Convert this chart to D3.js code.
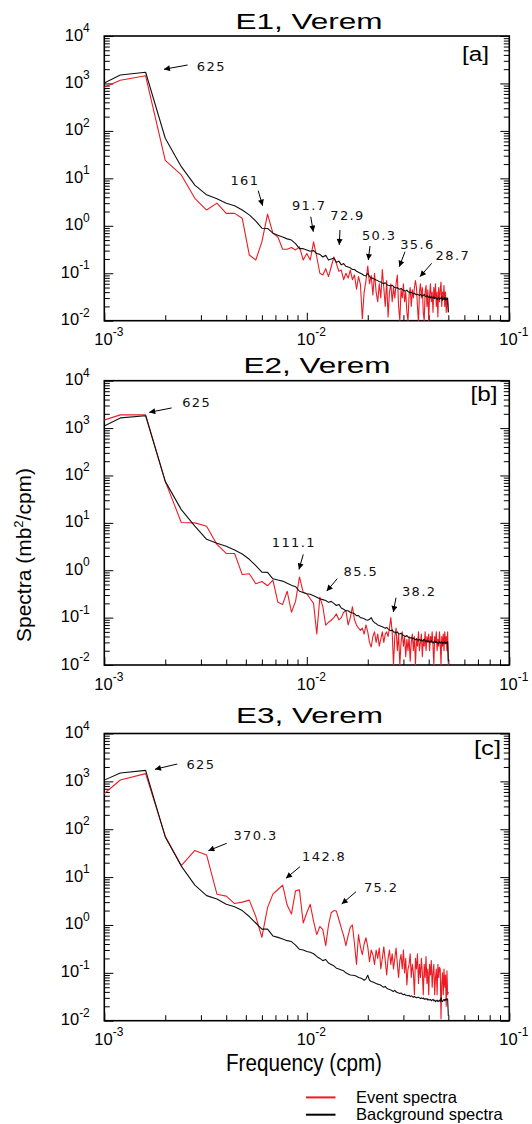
<!DOCTYPE html>
<html>
<head>
<meta charset="utf-8">
<script src="https://cdn.jsdelivr.net/npm/d3@7"></script>
<style>
  body { margin: 0; background: #fff; }
  svg { display: block; font-family: "Liberation Sans", Arial, sans-serif; }
</style>
</head>
<body>
<div id="chart"></div>
<script>
// spectral resolution (cpm); first bin is k = 2
const freqStep = 0.0004;

// E1 background / event spectra (mb^2/cpm), bins k = 2..125
const bgA = [630, 1510, 1720, 70, 17.6, 7.2, 4.5, 3.7, 3.0, 2.65,
  2.15, 1.7, 1.26, 0.89, 0.88, 0.70, 0.63, 0.58, 0.53, 0.50,
  0.42, 0.33, 0.33, 0.31, 0.29, 0.30, 0.26, 0.25, 0.22, 0.24,
  0.19, 0.20, 0.21, 0.17, 0.18, 0.15, 0.16, 0.14, 0.135, 0.13,
  0.12, 0.12, 0.11, 0.105, 0.10, 0.095, 0.09, 0.088, 0.10, 0.085,
  0.08, 0.078, 0.075, 0.072, 0.07, 0.066, 0.065, 0.062, 0.06, 0.063,
  0.058, 0.056, 0.055, 0.054, 0.056, 0.052, 0.05, 0.049, 0.05, 0.047,
  0.046, 0.048, 0.045, 0.044, 0.043, 0.042, 0.044, 0.041, 0.04, 0.039,
  0.04, 0.038, 0.037, 0.038, 0.036, 0.035, 0.036, 0.035, 0.034, 0.036,
  0.034, 0.033, 0.034, 0.036, 0.033, 0.032, 0.034, 0.032, 0.031, 0.033,
  0.03, 0.032, 0.031, 0.03, 0.032, 0.029, 0.031, 0.03, 0.028, 0.03,
  0.031, 0.028, 0.03, 0.029, 0.032, 0.027, 0.03, 0.028, 0.031, 0.027,
  0.03, 0.028, 0.03, 0.015];
const evA = [550, 1170, 1450, 24, 11.8, 3.8, 2.15, 3.0, 1.83, 1.83,
  1.44, 0.243, 0.19, 0.46, 1.77, 0.70, 0.58, 0.32, 0.32, 0.35,
  0.31, 0.36, 0.19, 0.26, 0.19, 0.46, 0.22, 0.10, 0.092, 0.125,
  0.085, 0.137, 0.22, 0.16, 0.11, 0.117, 0.073, 0.10, 0.079, 0.117,
  0.073, 0.092, 0.046, 0.085, 0.058, 0.011, 0.04, 0.07, 0.142, 0.06,
  0.09, 0.035, 0.10, 0.04, 0.025, 0.06, 0.03, 0.12, 0.05, 0.02,
  0.07, 0.012, 0.04, 0.06, 0.025, 0.05, 0.03, 0.06, 0.092, 0.02,
  0.01, 0.045, 0.03, 0.06, 0.025, 0.04, 0.015, 0.01, 0.035, 0.05,
  0.02, 0.045, 0.03, 0.05, 0.07, 0.05, 0.02, 0.009, 0.04, 0.06,
  0.03, 0.05, 0.015, 0.01, 0.04, 0.055, 0.02, 0.045, 0.01, 0.035,
  0.06, 0.025, 0.04, 0.015, 0.05, 0.03, 0.06, 0.02, 0.04, 0.012,
  0.05, 0.025, 0.045, 0.065, 0.02, 0.04, 0.03, 0.055, 0.02, 0.04,
  0.015, 0.03, 0.025, 0.015];

// E2
const bgB = [680, 1640, 1820, 75, 19, 8.5, 4.5, 3.7, 3.2, 2.66,
  2.2, 1.7, 1.25, 0.91, 0.9, 0.66, 0.62, 0.59, 0.53, 0.48,
  0.45, 0.36, 0.34, 0.32, 0.31, 0.29, 0.27, 0.25, 0.24, 0.23,
  0.21, 0.22, 0.2, 0.18, 0.19, 0.16, 0.15, 0.14, 0.14, 0.13,
  0.125, 0.12, 0.11, 0.11, 0.1, 0.098, 0.095, 0.09, 0.088, 0.092,
  0.1, 0.085, 0.078, 0.075, 0.07, 0.068, 0.066, 0.064, 0.062, 0.06,
  0.062, 0.058, 0.055, 0.053, 0.055, 0.05, 0.049, 0.048, 0.05, 0.046,
  0.045, 0.047, 0.044, 0.042, 0.041, 0.04, 0.042, 0.039, 0.038, 0.037,
  0.038, 0.036, 0.037, 0.035, 0.034, 0.036, 0.034, 0.033, 0.035, 0.033,
  0.034, 0.032, 0.033, 0.035, 0.032, 0.031, 0.033, 0.031, 0.032, 0.03,
  0.031, 0.033, 0.03, 0.031, 0.029, 0.032, 0.03, 0.031, 0.029, 0.03,
  0.028, 0.031, 0.03, 0.029, 0.031, 0.028, 0.03, 0.029, 0.031, 0.028,
  0.03, 0.029, 0.031, 0.012];
const evB = [1080, 1900, 1900, 75, 10.2, 10, 8.5, 3.5, 2.26, 2.26,
  0.81, 0.84, 0.52, 0.58, 0.47, 0.62, 0.21, 0.19, 0.36, 0.13,
  0.22, 0.72, 0.34, 0.32, 0.25, 0.2, 0.045, 0.27, 0.17, 0.069,
  0.08, 0.088, 0.1, 0.12, 0.09, 0.1, 0.13, 0.14, 0.07, 0.1,
  0.17, 0.09, 0.07, 0.06, 0.054, 0.06, 0.045, 0.07, 0.05, 0.03,
  0.024, 0.04, 0.05, 0.03, 0.045, 0.025, 0.035, 0.05, 0.03, 0.045,
  0.05, 0.04, 0.06, 0.1, 0.05, 0.01, 0.04, 0.06, 0.02, 0.045,
  0.01, 0.03, 0.05, 0.025, 0.04, 0.015, 0.035, 0.02, 0.04, 0.012,
  0.03, 0.045, 0.02, 0.04, 0.01, 0.035, 0.025, 0.05, 0.02, 0.03,
  0.045, 0.015, 0.035, 0.025, 0.05, 0.02, 0.04, 0.03, 0.045, 0.02,
  0.04, 0.03, 0.05, 0.025, 0.01, 0.04, 0.03, 0.05, 0.02, 0.035,
  0.025, 0.05, 0.03, 0.01, 0.04, 0.025, 0.045, 0.02, 0.05, 0.03,
  0.04, 0.02, 0.05, 0.01];

// E3
const bgC = [700, 1490, 1700, 69, 17, 6.8, 4.1, 3.5, 2.7, 2.4,
  2.0, 1.5, 1.1, 0.82, 0.82, 0.59, 0.55, 0.51, 0.47, 0.45,
  0.38, 0.31, 0.3, 0.28, 0.27, 0.25, 0.22, 0.2, 0.18, 0.19,
  0.16, 0.15, 0.14, 0.125, 0.12, 0.115, 0.11, 0.1, 0.095, 0.09,
  0.089, 0.088, 0.085, 0.08, 0.078, 0.075, 0.07, 0.075, 0.089, 0.07,
  0.066, 0.064, 0.062, 0.06, 0.058, 0.057, 0.055, 0.052, 0.05, 0.052,
  0.048, 0.046, 0.045, 0.044, 0.042, 0.041, 0.043, 0.04, 0.039, 0.038,
  0.037, 0.038, 0.036, 0.035, 0.036, 0.034, 0.034, 0.033, 0.034, 0.032,
  0.033, 0.032, 0.031, 0.032, 0.031, 0.03, 0.031, 0.031, 0.03, 0.029,
  0.03, 0.029, 0.03, 0.028, 0.029, 0.028, 0.029, 0.027, 0.028, 0.027,
  0.028, 0.026, 0.027, 0.028, 0.026, 0.027, 0.025, 0.026, 0.027, 0.025,
  0.026, 0.027, 0.025, 0.03, 0.026, 0.025, 0.027, 0.028, 0.026, 0.028,
  0.027, 0.029, 0.028, 0.0126];
const evC = [250, 1070, 1450, 71, 17.4, 36, 29, 4.4, 4.0, 2.8,
  3.0, 3.3, 1.5, 0.55, 2.3, 4.4, 5.5, 6.8, 2.6, 1.7,
  5.2, 5.4, 1.1, 1.8, 2.7, 1.2, 0.63, 0.93, 0.8, 0.37,
  1.0, 1.8, 2.0, 1.95, 1.3, 0.87, 0.6, 0.37, 0.6, 0.9,
  1.0, 0.4, 0.15, 0.63, 0.35, 0.24, 0.4, 0.54, 0.35, 0.17,
  0.3, 0.24, 0.15, 0.3, 0.2, 0.33, 0.12, 0.2, 0.35, 0.18,
  0.09, 0.2, 0.3, 0.15, 0.25, 0.12, 0.2, 0.33, 0.15, 0.08,
  0.18, 0.24, 0.12, 0.3, 0.1, 0.2, 0.056, 0.12, 0.15, 0.25,
  0.08, 0.15, 0.1, 0.035, 0.2, 0.12, 0.25, 0.06, 0.15, 0.08,
  0.2, 0.1, 0.035, 0.15, 0.08, 0.22, 0.06, 0.12, 0.035, 0.15,
  0.09, 0.18, 0.05, 0.1, 0.15, 0.035, 0.08, 0.12, 0.035, 0.15,
  0.08, 0.13, 0.12, 0.011, 0.06, 0.1, 0.035, 0.12, 0.05, 0.09,
  0.02, 0.11, 0.035, 0.04];

// period labels (min) with the spectral point their arrow points to
const annA = [
  { label: "625", f: 1.97e-3, v: 1986, tx: 23.7, ty: -4.3, lx: 47.4, ly: 1.4 },
  { label: "161", f: 6.05e-3, v: 2.65, tx: -4.4, ty: -15, lx: -17.7, ly: -20.3 },
  { label: "91.7", f: 0.01077, v: 0.751, tx: -2.6, ty: -15, lx: -4.1, ly: -21.3 },
  { label: "72.9", f: 0.01447, v: 0.394, tx: 0.7, ty: -15, lx: 8.2, ly: -24.6 },
  { label: "50.3", f: 0.02012, v: 0.19, tx: 1.7, ty: -14, lx: 10.9, ly: -20.3 },
  { label: "35.6", f: 0.02862, v: 0.137, tx: 5.7, ty: -15, lx: 18.2, ly: -17.7 },
  { label: "28.7", f: 0.03622, v: 0.0846, tx: 11.7, ty: -13.4, lx: 32.9, ly: -16.3 }
];
const annB = [
  { label: "625", f: 1.667e-3, v: 2148, tx: 22.4, ty: -4.4, lx: 47.4, ly: -5.3 },
  { label: "111.1", f: 9.15e-3, v: 1.04, tx: 4.3, ty: -15, lx: -5.1, ly: -22.5 },
  { label: "85.5", f: 0.01254, v: 0.363, tx: 10.6, ty: -12.4, lx: 34.1, ly: -14.7 },
  { label: "38.2", f: 0.02674, v: 0.131, tx: 2.7, ty: -14.4, lx: 25.9, ly: -16.3 }
];
const annC = [
  { label: "625", f: 1.779e-3, v: 1786, tx: 22.3, ty: -5.3, lx: 46, ly: -0.6 },
  { label: "370.3", f: 3.264e-3, v: 35.6, tx: 18.4, ty: -7.4, lx: 47.2, ly: -11 },
  { label: "142.8", f: 7.89e-3, v: 9.44, tx: 14, ty: -11.6, lx: 38.2, ly: -16.9 },
  { label: "75.2", f: 0.01487, v: 2.74, tx: 14.3, ty: -12.3, lx: 39.5, ly: -11.6 }
];

const xDomain = [1e-3, 1e-1];
const yDomain = [1e-2, 1e4];
const red = "#ec1c24";

const width = 532, height = 1124;
const left = 104.3, right = 509.3;

const panels = [
  { title: "E1, Verem", tag: "[a]", top: 36, bottom: 320.7, bg: bgA, ev: evA, ann: annA,
    titleX: 309, titleY: 29.4, tagX: 462, tagY: 61 },
  { title: "E2, Verem", tag: "[b]", top: 380.7, bottom: 665, bg: bgB, ev: evB, ann: annB,
    titleX: 317, titleY: 372.8, tagX: 470.6, tagY: 401 },
  { title: "E3, Verem", tag: "[c]", top: 733.5, bottom: 1020.7, bg: bgC, ev: evC, ann: annC,
    titleX: 309.5, titleY: 722.8, tagX: 474, tagY: 755 }
];

const svg = d3.select("#chart").append("svg")
  .attr("width", width)
  .attr("height", height);

svg.append("defs").append("marker")
  .attr("id", "arrow")
  .attr("viewBox", "0 0 10 10")
  .attr("refX", 10).attr("refY", 5)
  .attr("markerUnits", "userSpaceOnUse")
  .attr("markerWidth", 7).attr("markerHeight", 6)
  .attr("orient", "auto")
  .append("path").attr("d", "M0,0L10,5L0,10z").attr("fill", "#000");

const x = d3.scaleLog().domain(xDomain).range([left, right]);
const isMajor = d => Math.abs(Math.log10(d) - Math.round(Math.log10(d))) < 1e-6;

let series = (vals) => vals.map((v, i) => ({ f: (i + 2) * freqStep, v: v }));

panels.forEach((p, pi) => {
  const y = d3.scaleLog().domain(yDomain).range([p.bottom, p.top]);
  const g = svg.append("g");

  g.append("clipPath").attr("id", "clip" + pi)
    .append("rect")
    .attr("x", left).attr("y", p.top)
    .attr("width", right - left).attr("height", p.bottom - p.top);

  //ticks, all pointing inward
  const yTicks = y.ticks();
  const xTicks = x.ticks();

  g.append("g")
    .attr("transform", `translate(${left},0)`)
    .call(d3.axisLeft(y).tickValues(yTicks).tickSize(-5).tickFormat(""))
    .call(a => a.select(".domain").remove())
    .call(a => a.selectAll(".tick line").attr("x2", d => isMajor(d) ? 9 : 5.5));

  g.append("g")
    .attr("transform", `translate(${right},0)`)
    .call(d3.axisRight(y).tickValues(yTicks).tickSize(-5).tickFormat(""))
    .call(a => a.select(".domain").remove())
    .call(a => a.selectAll(".tick line").attr("x2", d => isMajor(d) ? -9 : -5.5));

  g.append("g")
    .attr("transform", `translate(0,${p.bottom})`)
    .call(d3.axisBottom(x).tickValues(xTicks).tickSize(-5).tickFormat(""))
    .call(a => a.select(".domain").remove())
    .call(a => a.selectAll(".tick line").attr("y2", d => isMajor(d) ? -8 : -5.5));

  g.selectAll(".tick line").attr("stroke", "#000").attr("stroke-width", 1);

  // frame
  g.append("rect")
    .attr("x", left).attr("y", p.top)
    .attr("width", right - left).attr("height", p.bottom - p.top)
    .attr("fill", "none").attr("stroke", "#000").attr("stroke-width", 1.6);

  // y tick labels 10^n
  const yl = g.append("g").selectAll("text")
    .data(yTicks.filter(isMajor))
    .join("text")
    .attr("x", left - 14.5)
    .attr("y", d => y(d) + 4.5)
    .attr("text-anchor", "end")
    .attr("font-size", 16.5)
    .attr("fill", "#000");
  yl.append("tspan").text("10");
  yl.append("tspan").attr("dy", -8.5).attr("font-size", 12)
    .text(d => String(Math.round(Math.log10(d))).replace("-", "\u2212").replace("\u2212", "-"));

  // x tick labels 10^n
  const xl = g.append("g").selectAll("text")
    .data(xTicks.filter(isMajor))
    .join("text")
    .attr("x", d => x(d) - 10)
    .attr("y", p.bottom + 24.5)
    .attr("font-size", 16.5)
    .attr("fill", "#000");
  xl.append("tspan").text("10");
  xl.append("tspan").attr("dy", -9).attr("font-size", 12)
    .text(d => String(Math.round(Math.log10(d))));

  // spectra
  const line = d3.line().x(d => x(d.f)).y(d => y(d.v));
  const plot = g.append("g").attr("clip-path", `url(#clip${pi})`);
  plot.append("path")
    .datum(series(p.ev))
    .attr("d", line)
    .attr("fill", "none").attr("stroke", red).attr("stroke-width", 1.1)
    .attr("stroke-linejoin", "round");
  plot.append("path")
    .datum(series(p.bg))
    .attr("d", line)
    .attr("fill", "none").attr("stroke", "#111").attr("stroke-width", 1.1)
    .attr("stroke-linejoin", "round");

  // arrows + period labels
  const ann = g.append("g").selectAll("g").data(p.ann).join("g");
  ann.append("line")
    .attr("x1", d => x(d.f) + d.tx).attr("y1", d => y(d.v) + d.ty)
    .attr("x2", d => x(d.f)).attr("y2", d => y(d.v))
    .attr("stroke", "#000").attr("stroke-width", 1)
    .attr("marker-end", "url(#arrow)");
  ann.append("text")
    .attr("x", d => x(d.f) + d.lx).attr("y", d => y(d.v) + d.ly)
    .attr("text-anchor", "middle")
    .attr("font-family", "'DejaVu Sans', sans-serif")
    .attr("font-size", 13)
    .attr("letter-spacing", 1.4)
    .attr("fill", "#111")
    .text(d => d.label);

  // title and panel tag
  g.append("text")
    .attr("x", p.titleX).attr("y", p.titleY)
    .attr("text-anchor", "middle")
    .attr("font-size", 22.5)
    .attr("textLength", 147).attr("lengthAdjust", "spacingAndGlyphs")
    .text(p.title);
  g.append("text")
    .attr("x", p.tagX).attr("y", p.tagY)
    .attr("font-size", 20)
    .attr("textLength", 27).attr("lengthAdjust", "spacingAndGlyphs")
    .text(p.tag);
});

// y axis title
const yt = svg.append("text")
  .attr("transform", "translate(31,555) rotate(-90)")
  .attr("text-anchor", "middle")
  .attr("font-size", 21);
yt.append("tspan").text("Spectra (mb");
yt.append("tspan").attr("dy", -8).attr("font-size", 13).text("2");
yt.append("tspan").attr("dy", 8).text("/cpm)");

// x axis title
svg.append("text")
  .attr("x", 304).attr("y", 1071)
  .attr("text-anchor", "middle")
  .attr("font-size", 23)
  .attr("textLength", 156).attr("lengthAdjust", "spacingAndGlyphs")
  .text("Frequency (cpm)");

// legend
const legend = svg.append("g");
const legendItems = [
  { name: "Event spectra", color: red, y: 1097.4 },
  { name: "Background spectra", color: "#000", y: 1114.7 }
];
legend.selectAll("line").data(legendItems).join("line")
  .attr("x1", 306).attr("x2", 335.5)
  .attr("y1", d => d.y).attr("y2", d => d.y)
  .attr("stroke", d => d.color).attr("stroke-width", 2);
legend.selectAll("text").data(legendItems).join("text")
  .attr("x", 356).attr("y", d => d.y + 5.2)
  .attr("font-size", 16.5)
  .text(d => d.name);
</script>
</body>
</html>
